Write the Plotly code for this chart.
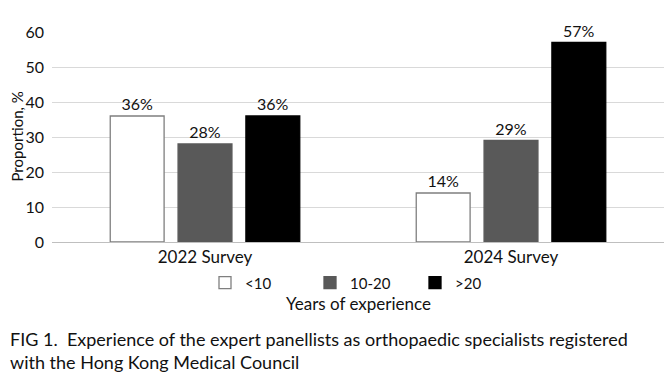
import plotly.graph_objects as go

categories = ["2022 Survey", "2024 Survey"]
series_names = ["<10", "10-20", ">20"]
values_lt10 = [36, 14]
values_10_20 = [28, 29]
values_gt20 = [36, 57]
y_ticks = [0, 10, 20, 30, 40, 50, 60]

FONT = "Lato"
fills = ["#ffffff", "#595959", "#000000"]
lines = ["#7f7f7f", "#595959", "#000000"]

fig = go.Figure()
for name, vals, fc, lc in zip(series_names, [values_lt10, values_10_20, values_gt20], fills, lines):
    fig.add_trace(go.Bar(
        x=categories, y=vals, name=name,
        marker=dict(color=fc, line=dict(color=lc, width=1.3)),
        texttemplate="%{y}%", textposition="outside",
        textfont=dict(family=FONT, size=16, color="#111"),
        cliponaxis=False,
    ))

# The page body adds an 8px margin around the figure, so the figure is 8px smaller
fig.update_layout(
    width=664, height=369,
    margin=dict(l=44, r=8, t=24, b=135, autoexpand=False),
    paper_bgcolor="white", plot_bgcolor="white",
    barmode="group", bargap=0.335, bargroupgap=0.206,
    font=dict(family=FONT, color="#111"),
    showlegend=True,
    legend=dict(orientation="h", x=0.25, xanchor="left", y=-0.195, yanchor="middle",
                font=dict(family=FONT, size=15, color="#111"),
                entrywidth=60, entrywidthmode="pixels", itemwidth=30,
                traceorder="normal"),
    xaxis=dict(showline=True, linecolor="#bfbfbf", linewidth=1, ticks="",
               tickfont=dict(family=FONT, size=17, color="#111"),
               showgrid=False, automargin=False),
    yaxis=dict(range=[0, 60], tickvals=y_ticks, showgrid=True, gridcolor="#d9d9d9",
               gridwidth=1, zeroline=False, showline=False, automargin=False,
               tickfont=dict(family=FONT, size=16, color="#111"), ticklabelstandoff=7),
    annotations=[
        dict(text="Proportion, %", xref="paper", yref="paper", x=-0.058, y=0.5,
             xanchor="center", yanchor="middle", textangle=-90, showarrow=False,
             font=dict(family=FONT, size=15, color="#111")),
        dict(text="Years of experience", xref="paper", yref="paper", x=0.5, y=-0.295,
             xanchor="center", yanchor="middle", showarrow=False,
             font=dict(family=FONT, size=17, color="#111")),
        dict(text="FIG 1.  Experience of the expert panellists as orthopaedic specialists registered<br>with the Hong Kong Medical Council",
             xref="paper", yref="paper", x=-44/612, y=-0.40, xanchor="left", yanchor="top",
             align="left", showarrow=False,
             font=dict(family=FONT, size=18, color="#111")),
    ],
)

fig.write_html("out.html")
